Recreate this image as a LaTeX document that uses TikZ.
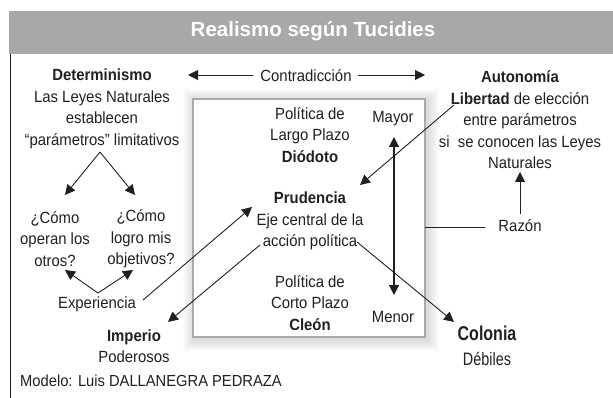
\documentclass[tikz,border=0pt]{standalone}
\usepackage{fontspec}
\setmainfont{Liberation Sans}[FakeStretch=0.92]
\newfontfamily\titlefont{Liberation Sans}[FakeStretch=1.0]
\newfontfamily\narrowfont{Liberation Sans}[FakeStretch=0.8]
\usetikzlibrary{arrows.meta}
\definecolor{band}{HTML}{A7A8AA}
\definecolor{ink}{HTML}{231F20}
\definecolor{boxline}{HTML}{A9A9A9}
\begin{document}
\begin{tikzpicture}[x=1pt,y=-1pt,
  txt/.style={inner sep=0pt,align=center,text=ink,font=\fontsize{16.2}{21.5}\selectfont},
  arr/.style={draw=ink,line width=0.9pt,-{Triangle[length=10pt,width=10pt]}},
  darr/.style={draw=ink,line width=1.1pt,{Triangle[length=10pt,width=10pt]}-{Triangle[length=10pt,width=10pt]}},
  plain/.style={draw=ink,line width=0.9pt}]
\useasboundingbox (0,0) rectangle (613,398);
% title band
\fill[band] (9,11) rectangle (613,54);
\node[inner sep=0pt,text=white,font=\titlefont\fontsize{20.5}{24}\selectfont\bfseries] (title) at (313,31) {Realismo según Tucidies};
\draw[ink,line width=1pt] (10,54) -- (10,398);
% central box with soft shadow
\foreach \i in {12,11,...,1}{
  \fill[black,opacity=0.012] (193-\i+2,99-\i+2) rectangle (425+\i+2,337+\i+2);
}
\fill[white] (193,99) rectangle (425,337);
\draw[boxline,line width=1.4pt] (193,99) rectangle (425,337);
% texts
\node[txt] (det) at (102,109) {\textbf{Determinismo}\\Las Leyes Naturales\\establecen\\“parámetros” limitativos};
\node[txt] (contra) at (306,76) {Contradicción};
\node[txt] (auto) at (520,120) {\textbf{Autonomía}\\\textbf{Libertad} de elección\\entre parámetros\\si\ \ se conocen las Leyes\\Naturales};
\node[txt] (razon) at (520,226) {Razón};
\node[txt] (diod) at (310,135) {Política de\\Largo Plazo\\\textbf{Diódoto}};
\node[txt] (prud) at (310,221) {\textbf{Prudencia}\\Eje central de la\\acción política};
\node[txt] (cleon) at (310,303) {Política de\\Corto Plazo\\\textbf{Cleón}};
\node[txt] (mayor) at (393,119) {Mayor};
\node[txt] (menor) at (393,317) {Menor};
\node[txt] (otros) at (55,239) {¿Cómo\\operan los\\otros?};
\node[txt] (objet) at (141,239) {¿Cómo\\logro mis\\objetivos?};
\node[txt] (exper) at (97,304) {Experiencia};
\node[txt] (imper) at (134,346) {\textbf{Imperio}\\Poderosos};
\node[inner sep=0pt,align=center,text=ink,font=\narrowfont\fontsize{18}{25}\selectfont] (colon) at (487,346) {{\fontsize{20}{25}\selectfont\bfseries Colonia}\\Débiles};
\node[inner sep=0pt,anchor=west,text=ink,font=\fontsize{16}{18}\selectfont] (modelo) at (20,381) {Modelo: Luis DALLANEGRA PEDRAZA};
% coordinates for connector ends
\coordinate (detv) at (100,152);
\coordinate (cl) at (65,195);
\coordinate (cr) at (135,195);
\coordinate (expv) at (98,293);
\coordinate (el) at (65,270);
\coordinate (er) at (133,270);
\coordinate (expr) at (143,300);
\coordinate (prw) at (252,207);
\coordinate (libs) at (454,105);
\coordinate (pre) at (360,185);
\coordinate (acl) at (260,245);
\coordinate (imp) at (168,322);
\coordinate (acr) at (357,242);
\coordinate (col) at (454,322);
\coordinate (contl) at (253,75);
\coordinate (contlt) at (188,75);
\coordinate (contr) at (358,75);
\coordinate (contrt) at (425,75);
\coordinate (may) at (394,137);
\coordinate (men) at (394,295);
\coordinate (boxe) at (425,227);
\coordinate (raz) at (485,227);
\coordinate (razn) at (520,214);
\coordinate (autb) at (520,172);
% connectors
\draw[arr] (detv) -- (cl);
\draw[arr] (detv) -- (cr);
\draw[arr] (expv) -- (el);
\draw[arr] (expv) -- (er);
\draw[arr] (expr) -- (prw);
\draw[arr] (libs) -- (pre);
\draw[arr] (acl) -- (imp);
\draw[arr] (acr) -- (col);
\draw[arr] (contl) -- (contlt);
\draw[arr] (contr) -- (contrt);
\draw[darr] (men) -- (may);
\draw[plain] (boxe) -- (raz);
\draw[arr] (razn) -- (autb);
\end{tikzpicture}
\end{document}
